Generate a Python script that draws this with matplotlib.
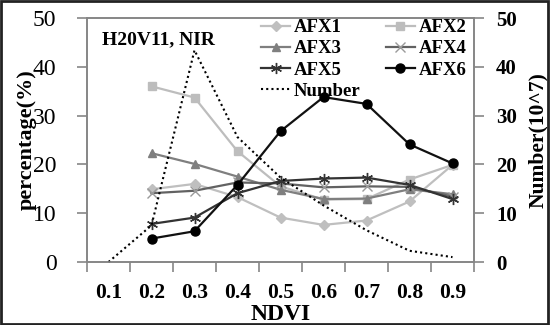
import numpy as np
import matplotlib
matplotlib.use("Agg")
import matplotlib.pyplot as plt
from matplotlib.patches import Rectangle

# data
ndvi = ["0.1", "0.2", "0.3", "0.4", "0.5", "0.6", "0.7", "0.8", "0.9"]
afx1 = [np.nan, 14.9, 16.0, 13.3, 9.1, 7.6, 8.5, 12.4, 19.9]
afx2 = [np.nan, 36.0, 33.7, 22.7, 15.5, 12.8, 12.9, 16.9, 19.9]
afx3 = [np.nan, 22.3, 20.1, 17.5, 14.8, 12.9, 13.0, 14.9, 13.9]
afx4 = [np.nan, 14.1, 14.6, 16.3, 16.1, 15.3, 15.5, 15.4, 13.4]
afx5 = [np.nan, 7.8, 9.1, 14.1, 16.6, 17.1, 17.3, 15.8, 12.9]
afx6 = [np.nan, 4.8, 6.3, 15.8, 26.8, 33.8, 32.4, 24.1, 20.2]
number = [0.0, 7.5, 43.4, 25.6, 17.3, 11.6, 6.5, 2.3, 1.0]

serif = "Liberation Serif"
plt.rcParams["font.family"] = serif

fig = plt.figure(figsize=(5.5, 3.25), dpi=100)
ax = fig.add_axes([87 / 550, 1 - 262 / 325, (474 - 87) / 550, (262 - 18) / 325])
ax2 = ax.twinx()

x = np.arange(len(ndvi))
lw = 1.6
series = [
    ("AFX1", afx1, "#bfbfbf", "D", "#bfbfbf", 5),
    ("AFX2", afx2, "#bdbdbd", "s", "#bdbdbd", 5.5),
    ("AFX3", afx3, "#7f7f7f", "^", "#7f7f7f", 6),
    ("AFX4", afx4, "#626262", "x", "#9a9a9a", 7),
    ("AFX5", afx5, "#333333", (6, 2, 0), "#333333", 8),
    ("AFX6", afx6, "#111111", "o", "#000000", 6.5),
]
handles = {}
for name, vals, col, mk, mcol, ms in series:
    h, = ax.plot(x, vals, color=col, lw=lw, marker=mk, markersize=ms,
                 markerfacecolor=mcol, markeredgecolor=mcol, markeredgewidth=1.0,
                 label=name)
    handles[name] = h

hn, = ax2.plot(x, number, color="black", lw=1.5, linestyle=(0, (1, 1.5)),
               label="Number", clip_on=False)
handles["Number"] = hn

for a in (ax, ax2):
    a.set_xlim(-0.5, len(ndvi) - 0.5)
    a.set_ylim(0, 50)
    for s in a.spines.values():
        s.set_color("#868686")
        s.set_linewidth(1.2)

ax.set_yticks(np.arange(0, 51, 10))
ax2.set_yticks(np.arange(0, 51, 10))
ax.set_xticks(np.arange(-0.5, len(ndvi), 1.0))
ax.set_xticklabels([])
ax.set_xticks(x, minor=True)
ax.set_xticklabels(ndvi, minor=True, fontsize=15.5, fontweight="bold")
ax.tick_params(axis="x", which="major", direction="out", length=7, width=1.2,
               color="#868686")
ax.tick_params(axis="x", which="minor", length=0, pad=15)
ax.tick_params(axis="y", direction="out", length=7, width=1.2, color="#868686",
               labelsize=17, pad=15)
ax2.tick_params(axis="y", direction="out", length=7, width=1.2, color="#868686",
                labelsize=15, pad=9)
for t in ax2.get_yticklabels():
    t.set_fontweight("bold")

ax.set_xlabel("NDVI", fontsize=17, fontweight="bold", labelpad=1)
ax.set_ylabel("percentage(%)", fontsize=16, fontweight="bold", labelpad=-3)
ax2.set_ylabel("Number(10^7)", fontsize=15.5, fontweight="bold", labelpad=8)

ax.text(0.04, 0.91, "H20V11, NIR", transform=ax.transAxes, fontsize=14,
        fontweight="bold", ha="left", va="center")

order = ["AFX1", "AFX3", "AFX5", "Number", "AFX2", "AFX4", "AFX6"]
ax2.legend([handles[k] for k in order], order, ncol=2, loc="upper left",
           bbox_to_anchor=(261 / 550, 1 - 19 / 325), bbox_transform=fig.transFigure,
           frameon=False, borderpad=0, borderaxespad=0, handlelength=1.55,
           handletextpad=0.2, columnspacing=1.35, labelspacing=0.22,
           prop={"family": serif, "weight": "bold", "size": 13.5})

fig.add_artist(Rectangle((0.002, 0.003), 0.995, 0.994, transform=fig.transFigure,
                         fill=False, edgecolor="#222222", lw=2))

fig.savefig("out.png", dpi=100)
